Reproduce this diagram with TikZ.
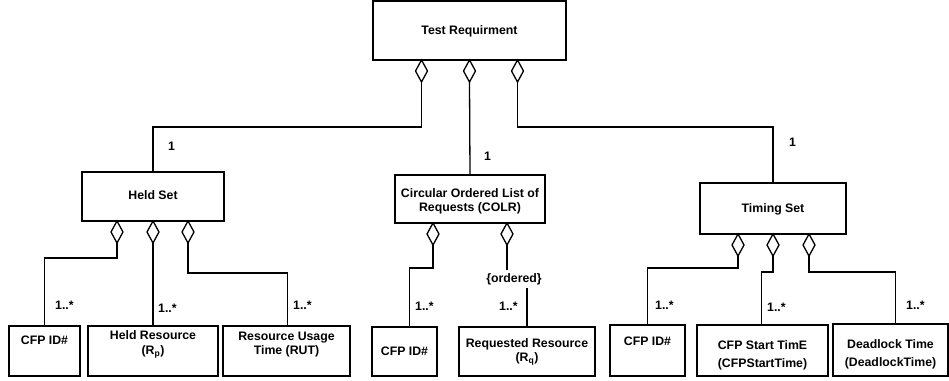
\documentclass[tikz,border=0pt]{standalone}
\usepackage{fontspec}
\setmainfont{Liberation Sans}
\usetikzlibrary{shapes.geometric}

\begin{document}
\begin{tikzpicture}[x=1pt,y=-1pt,
  box/.style={draw, line width=1.3pt, rectangle, inner sep=0pt, outer sep=0pt},
  txt/.style={font=\bfseries\fontsize{12.3}{14}\selectfont, align=center, inner sep=0pt},
  agg/.style={draw, line width=1.3pt, diamond, fill=white, inner sep=0pt, outer sep=0pt,
              minimum width=12pt, minimum height=22pt, anchor=north},
  link/.style={line width=1.3pt},
  mult/.style={font=\bfseries\fontsize{12.3}{14}\selectfont, inner sep=0pt, anchor=west}]

\useasboundingbox (0,0) rectangle (949,380);

% ---- class boxes ----
\node[box, minimum width=193pt, minimum height=59pt] (tr) at (469.5,30.5) {};
\node[box, minimum width=142pt, minimum height=49pt] (held) at (153,196.5) {};
\node[box, minimum width=150pt, minimum height=48pt] (colr) at (470,199) {};
\node[box, minimum width=146pt, minimum height=51pt] (timing) at (773,208.5) {};

\node[box, minimum width=71pt,  minimum height=50pt] (cfp1) at (44.5,351) {};
\node[box, minimum width=130pt, minimum height=50pt] (heldres) at (153,351) {};
\node[box, minimum width=127pt, minimum height=50pt] (rut) at (286.5,351) {};
\node[box, minimum width=65pt,  minimum height=49pt] (cfp2) at (404.5,351.5) {};
\node[box, minimum width=136pt, minimum height=49pt] (reqres) at (527,351.5) {};
\node[box, minimum width=75pt,  minimum height=51pt] (cfp3) at (647.5,350.5) {};
\node[box, minimum width=131pt, minimum height=51pt] (cfpstart) at (762.5,350.5) {};
\node[box, minimum width=115pt, minimum height=52pt] (deadlock) at (890.5,350) {};

% ---- box texts ----
\node[txt] (trT) at (469.5,31.3) {Test Requirment};
\node[txt] (heldT) at (153,195) {Held Set};
\node[txt] (colrT) at (470,201) {Circular Ordered List of\\Requests (COLR)};
\node[txt] (timingT) at (773,209.3) {Timing Set};
\node[txt] (cfp1T) at (44.5,340) {CFP ID\#};
\node[txt] (heldresT) at (153,344.6) {Held Resource\\[0.8pt](R\textsubscript{p})};
\node[txt] (rutT) at (286.5,344.6) {Resource Usage\\[0.8pt]Time (RUT)};
\node[txt] (cfp2T) at (404.5,351.5) {CFP ID\#};
\node[txt] (reqresT) at (527,352.1) {Requested Resource\\[0pt](R\textsubscript{q})};
\node[txt] (cfp3T) at (647.5,341.7) {CFP ID\#};
\node[txt] (cfpstartT) at (762.5,355.6) {CFP Start TimE\\[4pt](CFPStartTime)};
\node[txt] (deadlockT) at (890.5,354.3) {Deadlock Time\\[4.6pt](DeadlockTime)};

% ---- aggregation diamonds ----
\node[agg] (tA) at ([xshift=-48pt]tr.south) {};
\node[agg] (tB) at (tr.south) {};
\node[agg] (tC) at ([xshift=48pt]tr.south) {};

\node[agg] (hA) at ([xshift=-36pt]held.south) {};
\node[agg] (hB) at (held.south) {};
\node[agg] (hC) at ([xshift=35pt]held.south) {};

\node[agg] (cA) at ([xshift=-37pt]colr.south) {};
\node[agg] (cB) at ([xshift=37pt]colr.south) {};

\node[agg] (mA) at ([xshift=-35pt]timing.south) {};
\node[agg] (mB) at (timing.south) {};
\node[agg] (mC) at ([xshift=36pt]timing.south) {};

% ---- connectors ----
\draw[link] (tA.south) -- ++(0,45) -| (held.north);
\draw[link] (tB.south) -- (colr.north);
\draw[link] (tC.south) -- ++(0,45) -| (timing.north);

\draw[link] (hA.south) -- ++(0,15) -| (cfp1.north);
\draw[link] (hB.south) -- (heldres.north);
\draw[link] (hC.south) -- ++(0,30) -| ([xshift=1pt]rut.north);

\draw[link] (cA.south) -- ++(0,23) -| ([xshift=5pt]cfp2.north);
\node[txt, inner sep=3pt, fill=white] (ord) at (514,279) {\{ordered\}};
\draw[link] (cB.south) -- (cB.south |- ord.north);
\draw[link] (ord.south -| reqres.north) -- (reqres.north);

\draw[link] (mA.south) -- ++(0,12) -| (cfp3.north);
\draw[link] (mB.south) -- ++(0,16) -| ([xshift=-1pt]cfpstart.north);
\draw[link] (mC.south) -- ++(0,16) -| ([xshift=5pt]deadlock.north);

% ---- multiplicities ----
\node[mult] (m1) at (168,146) {1};
\node[mult] (m2) at (484,156) {1};
\node[mult] (m3) at (789,142) {1};

\node[mult] (n1) at (55,305) {1..*};
\node[mult] (n2) at (158,308) {1..*};
\node[mult] (n3) at (293,305) {1..*};
\node[mult] (n4) at (415,306) {1..*};
\node[mult] (n5) at (499,306) {1..*};
\node[mult] (n6) at (655,305) {1..*};
\node[mult] (n7) at (767,307) {1..*};
\node[mult] (n8) at (906,305) {1..*};
\end{tikzpicture}
\end{document}
